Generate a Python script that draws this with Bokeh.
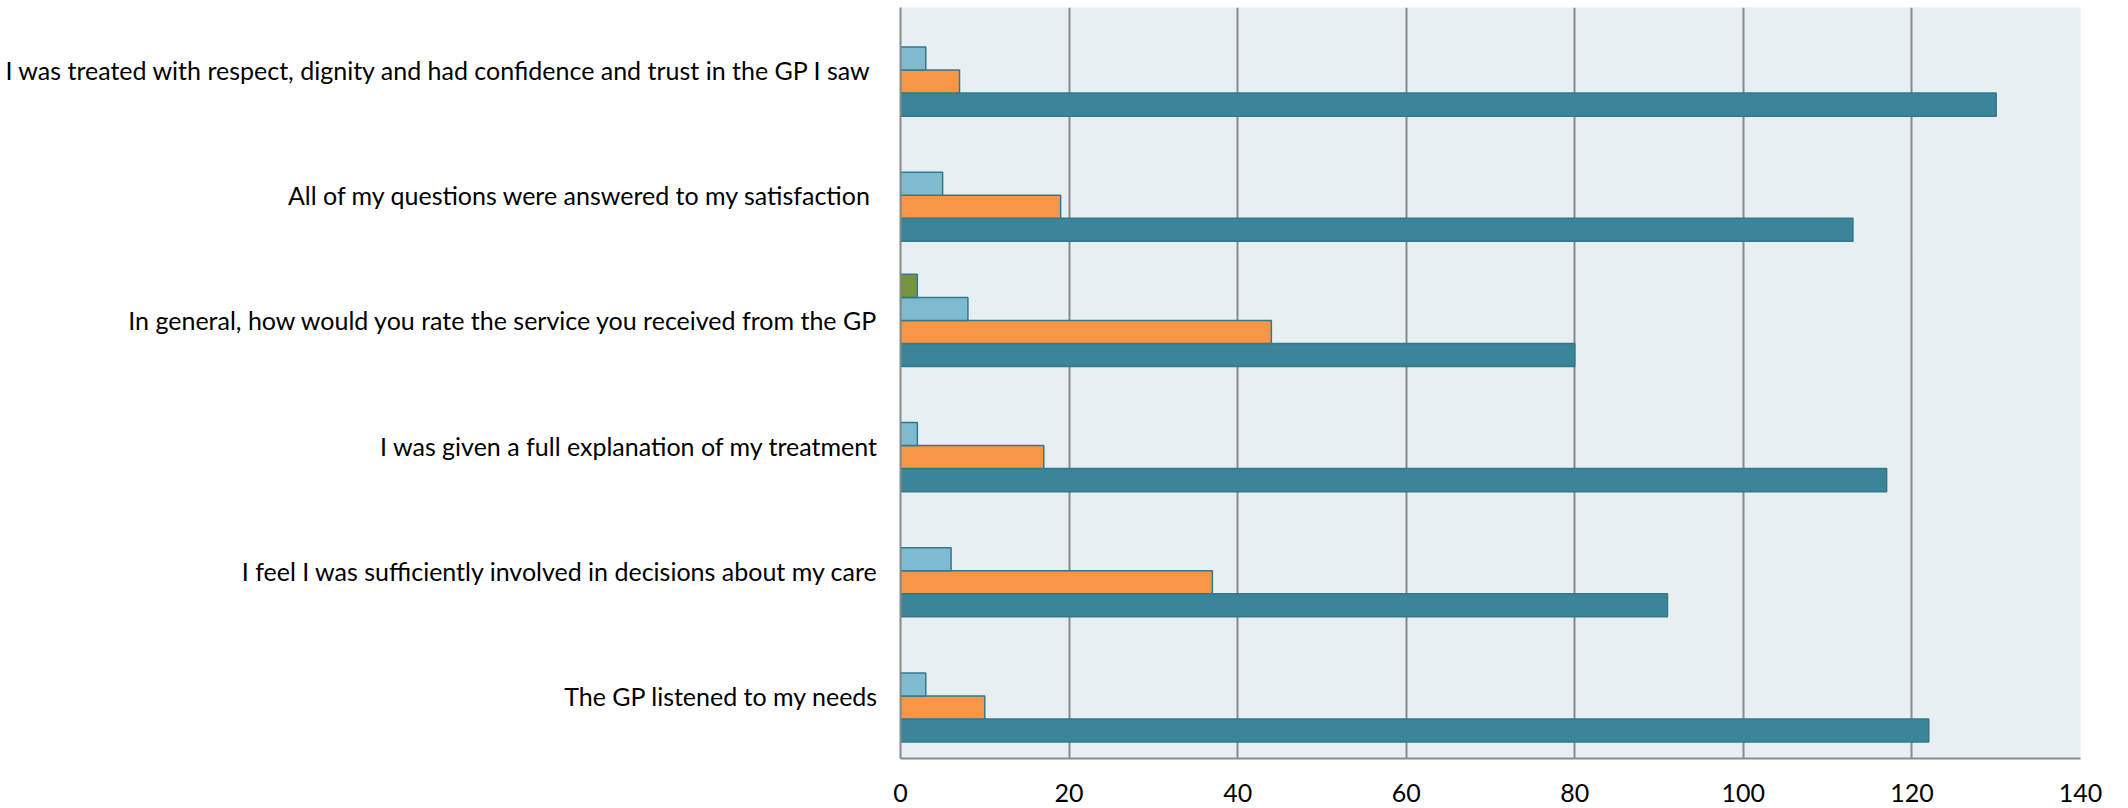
from bokeh.plotting import figure
from bokeh.models import FactorRange, Range1d, FixedTicker, ColumnDataSource
from bokeh.transform import dodge
from bokeh.embed import file_html
from bokeh.resources import INLINE

categories = [
    "I was treated with respect, dignity and had confidence and trust in the GP I saw ",
    "All of my questions were answered to my satisfaction ",
    "In general, how would you rate the service you received from the GP",
    "I was given a full explanation of my treatment",
    "I feel I was sufficiently involved in decisions about my care",
    "The GP listened to my needs",
]
series_1 = [130, 113, 80, 117, 91, 122]   # teal
series_2 = [7, 19, 44, 17, 37, 10]        # orange
series_3 = [3, 5, 8, 2, 6, 3]             # light blue
series_4 = [0, 0, 2, 0, 0, 0]             # green
x_ticks = [0, 20, 40, 60, 80, 100, 120, 140]

p = figure(
    width=2128, height=808,
    y_range=FactorRange(factors=list(reversed(categories)), range_padding=0),
    x_range=Range1d(0, 140),
    output_backend="svg", toolbar_location=None,
    min_border_left=900, min_border_right=48, min_border_top=7, min_border_bottom=50,
)
p.background_fill_color = "#E8EFF3"
p.border_fill_color = "white"
p.outline_line_color = None

bar_h = 0.184
specs = [
    (series_1, -1.5 * bar_h, "#3A8599", "#33798C"),
    (series_2, -0.5 * bar_h, "#F79646", "#33798C"),
    (series_3, 0.5 * bar_h, "#7FBBD0", "#33798C"),
    (series_4, 1.5 * bar_h, "#77933C", "#33798C"),
]
for vals, off, fill, line in specs:
    cats = [c for c, v in zip(categories, vals) if v > 0]
    vs = [v for v in vals if v > 0]
    src = ColumnDataSource(dict(cat=cats, val=vs))
    p.hbar(y=dodge("cat", off, range=p.y_range), left=0, right="val", height=bar_h,
           source=src, fill_color=fill, line_color=line, line_width=1.5)

p.xaxis.ticker = FixedTicker(ticks=x_ticks)
p.xgrid.ticker = FixedTicker(ticks=x_ticks)
p.xgrid.grid_line_color = "#8A8A8A"
p.xgrid.grid_line_width = 2
p.ygrid.grid_line_color = None

for ax in (p.xaxis, p.yaxis):
    ax.axis_line_color = "#8A8A8A"
    ax.axis_line_width = 2
    ax.major_tick_line_color = None
    ax.minor_tick_line_color = None
    ax.major_label_text_font = "Lato"
    ax.major_label_text_font_size = "25px"
    ax.major_label_text_color = "black"

p.xaxis.major_label_standoff = 19
p.yaxis.major_label_standoff = 16

open("out.html", "w").write(file_html(p, INLINE))
